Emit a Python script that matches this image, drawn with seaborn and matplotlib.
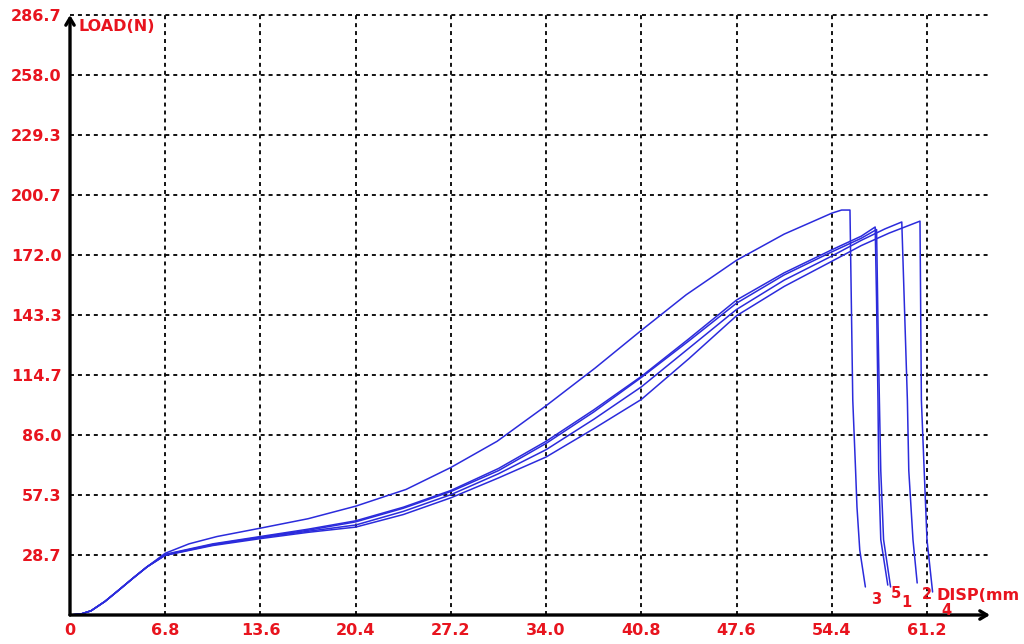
import pandas as pd
import matplotlib
matplotlib.use("Agg")
import matplotlib.pyplot as plt
import seaborn as sns

# --- data (DISP mm / LOAD N) ---
disp_3 = [0, 0.8, 1.5, 2.5, 3.5, 4.5, 5.5, 6.8, 8.5, 10.5, 13.6, 17.0, 20.4, 24.0, 27.2, 30.5,
          34.0, 37.5, 40.8, 44.0, 47.6, 51.0, 54.4, 55.1, 55.7, 55.9, 56.1, 56.2, 56.4, 56.8]
load_3 = [0, 0.5, 2, 6.5, 12, 17.6, 23, 29.5, 34, 37.5, 41.5, 46, 52, 60, 70.5, 83,
          100, 118, 136, 153, 169.5, 182, 192, 193.5, 193.5, 102.7, 69.3, 51.6, 31, 13.4]

disp_5 = [0, 0.8, 1.5, 2.5, 3.5, 4.5, 5.5, 6.8, 10.2, 13.6, 17.0, 20.4, 23.8, 27.2, 30.6,
          34.0, 37.4, 40.8, 44.2, 47.6, 51.0, 54.4, 56.5, 57.5, 57.6, 57.7, 57.75, 57.9, 58.4]
load_5 = [0, 0.5, 2, 6.5, 12, 17.6, 23, 29, 34, 37.5, 41, 45, 51.5, 59.5, 70,
          83, 98, 114, 132, 150.5, 163.5, 174.5, 181, 185.4, 150, 102.7, 69, 36, 14.3]

disp_1 = [0, 0.8, 1.5, 2.5, 3.5, 4.5, 5.5, 6.8, 10.2, 13.6, 17.0, 20.4, 23.8, 27.2, 30.6,
          34.0, 37.4, 40.8, 44.2, 47.6, 51.0, 54.4, 56.5, 57.6, 57.7, 57.8, 57.9, 58.1, 58.6]
load_1 = [0, 0.5, 2, 6.5, 12, 17.6, 23, 28.8, 33.7, 37.2, 40.5, 44.5, 51, 59, 69,
          82, 97, 113.5, 131, 149, 162.5, 173.5, 180, 184.2, 140, 102.7, 69, 36, 13.4]

disp_2 = [0, 0.8, 1.5, 2.5, 3.5, 4.5, 5.5, 6.8, 10.2, 13.6, 17.0, 20.4, 23.8, 27.2, 30.6,
          34.0, 37.4, 40.8, 44.2, 47.6, 51.0, 54.4, 56.5, 58.2, 59.4, 59.8, 59.9, 60.2, 60.5]
load_2 = [0, 0.5, 2, 6.5, 12, 17.6, 23, 28.6, 33.5, 37, 40, 43, 49.5, 57.5, 67.5,
          79, 93.5, 109, 127.5, 146, 160, 171.5, 179, 184.5, 187.8, 102.7, 69, 36, 15.3]

disp_4 = [0, 0.8, 1.5, 2.5, 3.5, 4.5, 5.5, 6.8, 10.2, 13.6, 17.0, 20.4, 23.8, 27.2, 30.6,
          34.0, 37.4, 40.8, 44.2, 47.6, 51.0, 54.4, 56.5, 58.5, 60.7, 60.8, 61.0, 61.2, 61.6]
load_4 = [0, 0.5, 2, 6.5, 12, 17.6, 23, 28.5, 33.2, 36.5, 39.5, 42, 48, 56, 65.5,
          75.5, 89, 103, 122.5, 143, 157, 169, 176.5, 182.5, 188.2, 102.7, 69, 36, 11]

x_ticks = [0, 6.8, 13.6, 20.4, 27.2, 34.0, 40.8, 47.6, 54.4, 61.2]
y_ticks = [28.7, 57.3, 86.0, 114.7, 143.3, 172.0, 200.7, 229.3, 258.0, 286.7]

curve_names = ["3", "5", "1", "2", "4"]
curve_label_pos = {"3": (57.6, 7.2), "5": (59.0, 10.3), "1": (59.7, 6.0),
                   "2": (61.2, 9.8), "4": (62.6, 2.2)}

frames = []
for name, d, l in zip(curve_names, [disp_3, disp_5, disp_1, disp_2, disp_4],
                      [load_3, load_5, load_1, load_2, load_4]):
    frames.append(pd.DataFrame({"disp": d, "load": l, "curve": name}))
df = pd.concat(frames, ignore_index=True)

sns.set_style("white")
plt.rcParams["font.family"] = ["DejaVu Sans"]
red = "#e8141e"
blue = "#2b2bdc"

fig = plt.figure(figsize=(10.24, 6.44), dpi=100)
ax = fig.add_axes([70 / 1024, 29 / 644, 920 / 1024, 600 / 644])

sns.lineplot(data=df, x="disp", y="load", units="curve", estimator=None, sort=False,
             color=blue, linewidth=1.1, ax=ax, legend=False)

ax.set_xlim(0, 65.7)
ax.set_ylim(0, 286.7)

# dashed grid
grid_dash = (0, (2.2, 2.2))
for xv in x_ticks[1:]:
    ax.axvline(xv, color="black", linestyle=grid_dash, linewidth=1.3, zorder=0, clip_on=False)
for yv in y_ticks:
    ax.axhline(yv, color="black", linestyle=grid_dash, linewidth=1.3, zorder=0, clip_on=False)

for s in ax.spines.values():
    s.set_visible(False)

# axes with open arrow heads
arrow = dict(arrowstyle="->,head_length=0.5,head_width=0.3", lw=2.4, color="black",
             shrinkA=0, shrinkB=0)
ax.annotate("", xy=(0, 286.7), xytext=(0, 0), arrowprops=arrow, annotation_clip=False)
ax.annotate("", xy=(65.7, 0), xytext=(0, 0), arrowprops=arrow, annotation_clip=False)

ax.set_xticks(x_ticks)
ax.set_xticklabels([f"{v:g}" if v == 0 else f"{v:.1f}" for v in x_ticks])
ax.set_yticks(y_ticks)
ax.set_yticklabels([f"{v:.1f}" for v in y_ticks])
ax.tick_params(axis="both", length=0, labelcolor=red, labelsize=11.5)
ax.tick_params(axis="x", pad=6)
ax.tick_params(axis="y", pad=6)
for lab in ax.get_xticklabels() + ax.get_yticklabels():
    lab.set_fontweight("bold")

ax.set_xlabel("")
ax.set_ylabel("")

ax.text(0.6, 281, "LOAD(N)", color=red, fontsize=11.5, fontweight="bold", va="center", ha="left")
ax.text(61.9, 9.3, "DISP(mm", color=red, fontsize=11.5, fontweight="bold", va="center", ha="left",
        clip_on=False)
for name, (tx, ty) in curve_label_pos.items():
    ax.text(tx, ty, name, color=red, fontsize=10.5, fontweight="bold", va="center", ha="center")

fig.savefig("out.png", dpi=100)
